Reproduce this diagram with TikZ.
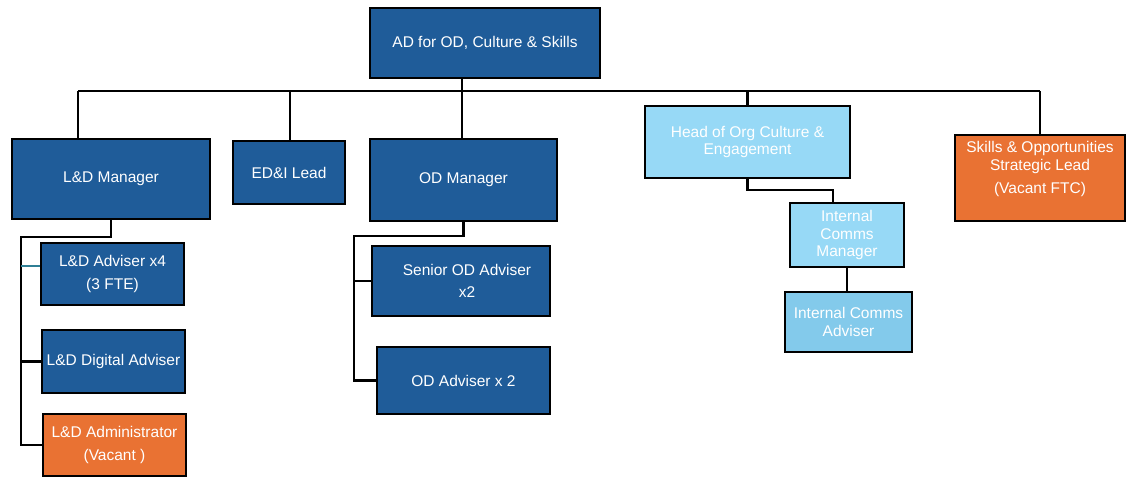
\documentclass[tikz,border=0pt]{standalone}
\usepackage{fontspec}
\setmainfont{Liberation Sans}
\usepackage{tikz}

\definecolor{navy}{HTML}{1F5C99}
\definecolor{sky}{HTML}{97D9F6}
\definecolor{skydark}{HTML}{83CAEB}
\definecolor{vacant}{HTML}{E97233}
\definecolor{teal}{HTML}{2F7F95}

\tikzset{
  post/.style={draw=black, line width=1.6pt, text=white, align=center,
    inner sep=2pt, font=\fontsize{15.5}{17.5}\selectfont},
  navybox/.style={post, fill=navy},
  skybox/.style={post, fill=sky},
  orangebox/.style={post, fill=vacant},
  link/.style={draw=black, line width=2.2pt}
}

\begin{document}
\begin{tikzpicture}[x=1pt,y=-1pt]
\useasboundingbox (0,0) rectangle (1126,477);
% top of the chart
\node[navybox, minimum width=230pt, minimum height=70pt] (ad) at (485,43) {AD for OD, Culture \& Skills};
% second row
\node[navybox, minimum width=198pt, minimum height=80pt] (ldm) at (111,179) {L\&D Manager};
\node[navybox, minimum width=112pt, minimum height=63pt] (edi) at (289,172.5) {ED\&I Lead};
\node[navybox, minimum width=187pt, minimum height=82pt] (odm) at (463.5,180) {OD Manager};
\node[skybox, minimum width=205pt, minimum height=72pt] (hoc) at (747.5,142) {Head of Org Culture \&\\Engagement};
\node[orangebox, minimum width=170pt, minimum height=86pt] (sol) at (1040,178) {Skills \& Opportunities\\Strategic Lead\\[6pt](Vacant FTC)\\[3pt]};
% L&D team
\node[navybox, minimum width=143pt, minimum height=62pt] (lda) at (112.5,274) {L\&D Adviser x4\\[5pt](3 FTE)};
\node[navybox, minimum width=143pt, minimum height=63pt] (ldd) at (113.5,361.5) {L\&D Digital Adviser};
\node[orangebox, minimum width=143pt, minimum height=62pt] (ldx) at (114.5,445) {L\&D Administrator\\[5pt](Vacant )};
% OD team
\node[navybox, minimum width=178pt, minimum height=70pt] (soda) at (461,281) {\hspace*{12pt}Senior OD Adviser\\[5pt]\hspace*{12pt}x2};
\node[navybox, minimum width=173pt, minimum height=67pt] (oda) at (463.5,380.5) {OD Adviser x 2};
% comms team
\node[skybox, minimum width=114pt, minimum height=64pt] (icm) at (847,235) {Internal\\Comms\\Manager};
\node[post, fill=skydark, minimum width=127pt, minimum height=60pt] (ica) at (848.5,322) {Internal Comms\\Adviser};

% the bus
\coordinate (busL) at (78,91);
\coordinate (busR) at (1040,91);
\coordinate (edT) at (290,91);
\coordinate (adT) at (462,91);
\path[link] (busL) -- (busR);
\path[link] (ad.south -| adT) -- (odm.north -| adT);
\path[link] (busL) -- (ldm.north -| busL);
\path[link] (edT) -- (edi.north -| edT);
\path[link] (hoc.north |- busR) -- (hoc.north);
\path[link] (busR) -- (sol.north -| busR);

% L&D branch
\path[link] (ldm.south) -- ++(0,17) -| ([xshift=-21pt]ldx.west) -- (ldx.west);
\path[link] (ldd.west) -- ++(-20,0);
\draw[teal, line width=2pt] ([yshift=8pt]lda.west) -- ++(-19,0);

% OD branch
\path[link] (odm.south) -- ++(0,14) -| ([xshift=-22pt]oda.west) -- (oda.west);
\path[link] (soda.west) -- ++(-17,0);

% comms branch
\path[link] (hoc.south) -- ++(0,11) -| ([xshift=-14pt]icm.north);
\path[link] (icm.south) -- (ica.north -| icm.south);
\end{tikzpicture}
\end{document}
